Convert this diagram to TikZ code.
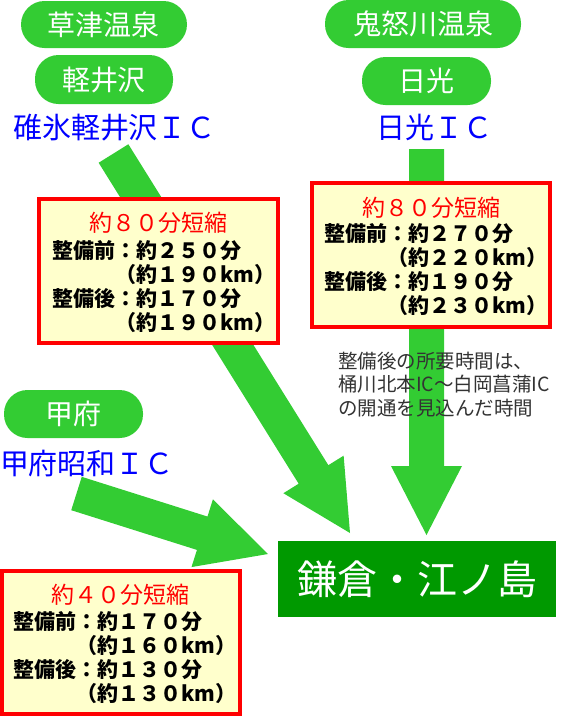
\documentclass[tikz,border=0pt]{standalone}
\usepackage{fontspec}
\setmainfont{Noto Sans CJK JP}
\usetikzlibrary{calc}
\definecolor{pillgreen}{HTML}{33CC33}
\definecolor{arrowgreen}{HTML}{33CC33}
\definecolor{destgreen}{HTML}{009900}
\definecolor{boxfill}{HTML}{FFFFCC}
\definecolor{boxred}{HTML}{FF0000}
\definecolor{icblue}{HTML}{0000FF}
\definecolor{notegray}{HTML}{333333}
\newcommand\greenarrow[2]{%
  \coordinate (hb) at ($(#2)!69pt!(#1)$);
  \fill[arrowgreen] ($(#1)!17.5pt!90:(#2)$) -- ($(hb)!17.5pt!90:(#2)$) -- ($(hb)!35.5pt!90:(#2)$) -- (#2)
    -- ($(hb)!35.5pt!-90:(#2)$) -- ($(hb)!17.5pt!-90:(#2)$) -- ($(#1)!17.5pt!-90:(#2)$) -- cycle;}
\begin{document}
\begin{tikzpicture}[x=1pt,y=-1pt,
  pill/.style={fill=pillgreen, rounded corners=23.5pt, text=white, font=\fontsize{28}{32}\selectfont, inner sep=0},
  ic/.style={text=icblue, font=\fontsize{29}{33}\selectfont, inner sep=0},
  dest/.style={fill=destgreen, text=white, font=\fontsize{40}{44}\selectfont, inner sep=0},
  infobox/.style={draw=boxred, line width=4pt, fill=boxfill, inner sep=0},
  boxtitle/.style={text=boxred, font=\fontsize{23}{27}\selectfont, inner sep=0},
  boxlines/.style={anchor=west, align=left, font=\bfseries\fontsize{21}{24}\selectfont, inner sep=0},
  note/.style={anchor=west, align=left, text=notegray, font=\fontsize{19.5}{23.5}\selectfont, inner sep=0}]
\useasboundingbox (0,0) rectangle (564,716);
\clip (0,0) rectangle (564,716);
% arrow end points
\coordinate (aL) at (113.5,153.5);
\coordinate (tL) at (350,533);
\coordinate (aR) at (426.5,149);
\coordinate (tR) at (426.5,535);
\coordinate (aB) at (76.5,493.5);
\coordinate (tB) at (268,554);
\greenarrow{aL}{tL}
\greenarrow{aR}{tR}
\greenarrow{aB}{tB}
% pills and IC labels
\node[pill, minimum width=166, minimum height=47] (kusatsu) at (104,24.5) {草津温泉};
\node[pill, minimum width=138, minimum height=49] (karuizawa) at (104,79.5) {軽井沢};
\node[ic] (usui) at (114.5,127.5) {碓氷軽井沢ＩＣ};
\node[pill, minimum width=196, minimum height=48] (kinugawa) at (423,24) {鬼怒川温泉};
\node[pill, minimum width=129, minimum height=48] (nikko) at (426.5,81) {日光};
\node[ic] (nikkoic) at (434,127) {日光ＩＣ};
\node[pill, minimum width=139, minimum height=48] (kofu) at (73.5,414) {甲府};
\node[ic] (kofuic) at (87,463.5) {甲府昭和ＩＣ};
\node[dest, minimum width=278, minimum height=76] (kamakura) at (417,579) {鎌倉・江ノ島};
% info boxes
\node[infobox, minimum width=239, minimum height=144] (b1) at (158.5,271) {};
\node[boxtitle] (b1t) at (158.5,223) {約８０分短縮};
\node[boxlines] (b1l) at (52,287) {整備前：約２５０分\\\phantom{整備前}（約１９０km）\\整備後：約１７０分\\\phantom{整備後}（約１９０km）};
\node[infobox, minimum width=238, minimum height=144] (b2) at (431,255) {};
\node[boxtitle] (b2t) at (431,208) {約８０分短縮};
\node[boxlines] (b2l) at (324,269.5) {整備前：約２７０分\\\phantom{整備前}（約２２０km）\\整備後：約１９０分\\\phantom{整備後}（約２３０km）};
\node[infobox, minimum width=238, minimum height=143] (b3) at (121,642.5) {};
\node[boxtitle] (b3t) at (121,595) {約４０分短縮};
\node[boxlines] (b3l) at (13,658) {整備前：約１７０分\\\phantom{整備前}（約１６０km）\\整備後：約１３０分\\\phantom{整備後}（約１３０km）};
% note
\node[note] (note) at (338,384.5) {整備後の所要時間は、\\桶川北本IC～白岡菖蒲IC\\の開通を見込んだ時間};
\end{tikzpicture}
\end{document}
